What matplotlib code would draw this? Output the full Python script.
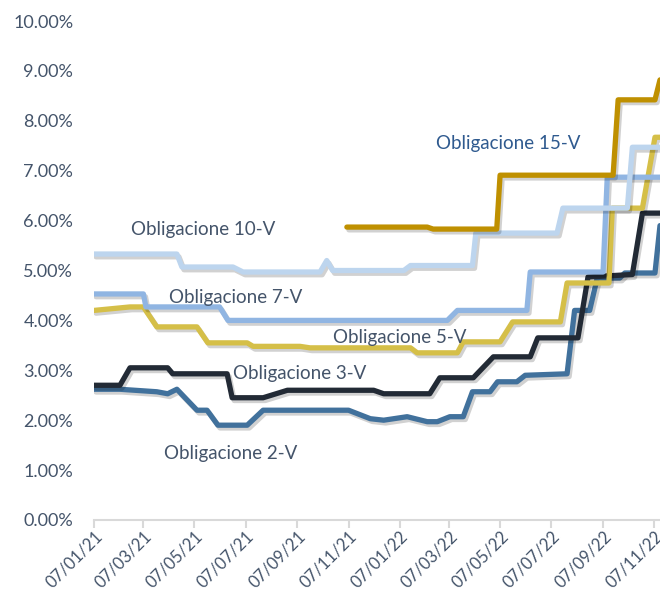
import matplotlib
matplotlib.use('Agg')
import matplotlib.pyplot as plt
import matplotlib.dates as mdates
import matplotlib.patheffects as pe
from matplotlib.ticker import FuncFormatter
import pandas as pd

plt.rcParams['font.family'] = ['Lato', 'DejaVu Sans']

# --- dati (rendimenti in %) ---
d2 = ['2021-01-07', '2021-02-07', '2021-03-23', '2021-04-05', '2021-04-16', '2021-05-10',
      '2021-05-22', '2021-06-04', '2021-07-09', '2021-07-28', '2021-11-07', '2021-12-03',
      '2021-12-19', '2022-01-16', '2022-02-09', '2022-02-21', '2022-03-08', '2022-03-24',
      '2022-04-04', '2022-04-25', '2022-05-04', '2022-05-27', '2022-06-06', '2022-07-26',
      '2022-08-04', '2022-08-22', '2022-08-31', '2022-09-27', '2022-10-03', '2022-11-08',
      '2022-11-14']
v2 = [2.62, 2.62, 2.57, 2.53, 2.62, 2.20,
      2.20, 1.90, 1.90, 2.20, 2.20, 2.03,
      2.00, 2.07, 1.97, 1.97, 2.07, 2.07,
      2.57, 2.57, 2.77, 2.77, 2.90, 2.93,
      4.20, 4.20, 4.85, 4.85, 4.95, 4.95,
      5.90]

d3 = ['2021-01-07', '2021-02-07', '2021-02-19', '2021-04-05', '2021-04-11', '2021-06-15',
      '2021-06-21', '2021-07-28', '2021-08-26', '2021-12-07', '2021-12-19', '2022-02-12',
      '2022-02-24', '2022-04-05', '2022-04-29', '2022-06-12', '2022-06-21', '2022-08-08',
      '2022-08-20', '2022-10-12', '2022-10-24', '2022-11-14']
v3 = [2.70, 2.70, 3.05, 3.05, 2.93, 2.93,
      2.45, 2.45, 2.60, 2.60, 2.53, 2.53,
      2.85, 2.85, 3.27, 3.27, 3.65, 3.65,
      4.87, 4.92, 6.15, 6.15]

d5 = ['2021-01-07', '2021-02-19', '2021-03-07', '2021-03-23', '2021-05-10', '2021-05-23',
      '2021-07-09', '2021-07-16', '2021-09-10', '2021-09-22', '2022-01-20', '2022-01-28',
      '2022-03-17', '2022-03-24', '2022-05-07', '2022-05-22', '2022-07-18', '2022-07-26',
      '2022-09-14', '2022-09-18', '2022-10-24', '2022-11-08', '2022-11-14']
v5 = [4.20, 4.27, 4.27, 3.87, 3.87, 3.55,
      3.55, 3.48, 3.48, 3.45, 3.45, 3.35,
      3.35, 3.57, 3.57, 3.97, 3.97, 4.75,
      4.75, 6.25, 6.25, 7.67, 7.67]

d7 = ['2021-01-07', '2021-03-07', '2021-03-10', '2021-06-06', '2021-06-16', '2022-03-05',
      '2022-03-17', '2022-06-08', '2022-06-12', '2022-09-07', '2022-09-12', '2022-11-14']
v7 = [4.53, 4.53, 4.27, 4.27, 4.00, 4.00,
      4.20, 4.20, 4.97, 4.97, 6.87, 6.87]

d10 = ['2021-01-07', '2021-04-16', '2021-04-22', '2021-06-22', '2021-07-04', '2021-10-04',
       '2021-10-12', '2021-10-19', '2022-01-12', '2022-01-20', '2022-04-04', '2022-04-08',
       '2022-07-14', '2022-07-21', '2022-10-06', '2022-10-12', '2022-11-14']
v10 = [5.33, 5.33, 5.07, 5.07, 4.97, 4.97,
       5.20, 5.00, 5.00, 5.10, 5.10, 5.75,
       5.75, 6.25, 6.25, 7.47, 7.47]

d15 = ['2021-11-05', '2022-02-09', '2022-02-16', '2022-05-03', '2022-05-07', '2022-09-19',
       '2022-09-25', '2022-11-08', '2022-11-14']
v15 = [5.87, 5.87, 5.83, 5.83, 6.91, 6.91,
       8.42, 8.42, 8.82]

tick_dates = ['2021-01-07', '2021-03-07', '2021-05-07', '2021-07-07', '2021-09-07', '2021-11-07',
              '2022-01-07', '2022-03-07', '2022-05-07', '2022-07-07', '2022-09-07', '2022-11-07']

series = [
    ('Obligacione 2-V', d2, v2, '#41719C'),
    ('Obligacione 3-V', d3, v3, '#222A35'),
    ('Obligacione 5-V', d5, v5, '#D5BF48'),
    ('Obligacione 7-V', d7, v7, '#90B5E2'),
    ('Obligacione 10-V', d10, v10, '#BDD5EE'),
    ('Obligacione 15-V', d15, v15, '#BF9000'),
]

fig = plt.figure(figsize=(6.6, 5.94), dpi=100)
ax = fig.add_axes([94/660, 1 - 520/594, 1 - 94/660, 499/594])

shadow = [pe.SimpleLineShadow(offset=(1.5, -2), shadow_color='black', alpha=0.18), pe.Normal()]

for name, d, v, col in series:
    ax.plot(pd.to_datetime(d), v, color=col, lw=3.8, solid_capstyle='round',
            solid_joinstyle='round', path_effects=shadow)

ax.set_ylim(0, 10)
ax.set_yticks(range(0, 11))
ax.yaxis.set_major_formatter(FuncFormatter(lambda y, p: '%.2f%%' % y))
ax.set_xlim(pd.Timestamp('2021-01-07'), pd.Timestamp('2022-11-14'))
ax.set_xticks(pd.to_datetime(tick_dates))
ax.xaxis.set_major_formatter(mdates.DateFormatter('%d/%m/%y'))

for s in ['top', 'right', 'left']:
    ax.spines[s].set_visible(False)
ax.spines['bottom'].set_color('#D9D9D9')
ax.spines['bottom'].set_linewidth(1.5)
ax.tick_params(axis='y', length=0, labelsize=13, labelcolor='#44546A', pad=15)
ax.tick_params(axis='x', length=6, width=1.5, color='#D9D9D9', labelsize=12,
               labelcolor='#44546A', labelrotation=45, pad=0)
for lab in ax.get_xticklabels():
    lab.set_ha('right')
    lab.set_rotation_mode('anchor')

# etichette delle serie
lab_col = '#44546A'
fig.text(203/660, 1 - 229/594, 'Obligacione 10-V', color=lab_col, fontsize=13.5, ha='center', va='center')
fig.text(236/660, 1 - 297/594, 'Obligacione 7-V', color=lab_col, fontsize=13.5, ha='center', va='center')
fig.text(400/660, 1 - 337/594, 'Obligacione 5-V', color=lab_col, fontsize=13.5, ha='center', va='center')
fig.text(300/660, 1 - 373/594, 'Obligacione 3-V', color=lab_col, fontsize=13.5, ha='center', va='center')
fig.text(231/660, 1 - 453/594, 'Obligacione 2-V', color=lab_col, fontsize=13.5, ha='center', va='center')
fig.text(508/660, 1 - 143/594, 'Obligacione 15-V', color='#2F5A8F', fontsize=13.5, ha='center', va='center')

plt.savefig('out.png', dpi=100)
